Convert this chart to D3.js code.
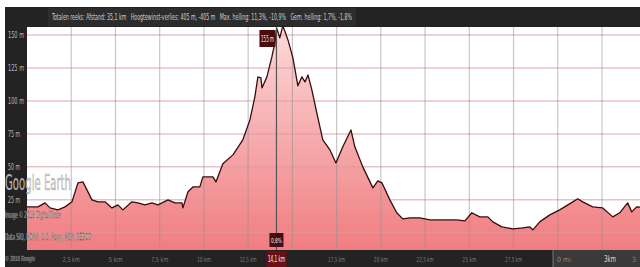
<!DOCTYPE html>
<html>
<head>
<meta charset="utf-8">
<script src="https://cdn.jsdelivr.net/npm/d3@7"></script>
<style>
  body { margin: 0; background: #fff; }
  svg { display: block; }
</style>
</head>
<body>
<div id="chart"></div>
<script>
// profile: distance (km) and elevation (m)
const distKm = [0, 0.62, 1.02, 1.3, 1.75, 2.15, 2.54, 2.88, 3.16, 3.39, 3.67, 4.01, 4.41, 4.8, 5.14, 5.42, 5.93, 6.27, 6.67, 7.06, 7.4, 7.97, 8.36, 8.76, 8.81, 9.1, 9.38, 9.77, 9.94, 10.51, 10.68, 11.07, 11.64, 12.2, 12.6, 12.88, 13.05, 13.22, 13.28, 13.56, 13.84, 14.01, 14.12, 14.29, 14.46, 14.75, 15.03, 15.31, 15.54, 15.71, 15.88, 16.1, 16.38, 16.72, 17.12, 17.46, 17.85, 18.31, 18.53, 18.98, 19.55, 19.83, 20.06, 20.51, 20.9, 21.24, 21.64, 22.2, 22.77, 23.5, 24.29, 24.75, 25.14, 25.59, 26.05, 26.33, 26.84, 27.46, 28.02, 28.42, 28.59, 28.98, 29.55, 30.11, 30.85, 31.13, 31.41, 31.98, 32.54, 33.11, 33.5, 33.95, 34.18, 34.46, 35.1]
const elevM = [19.7, 19.7, 22.7, 18.9, 17.4, 19.7, 23.5, 37.9, 38.6, 32.6, 25, 23.5, 23.5, 18.9, 21.2, 17.4, 23.5, 22.7, 21.2, 22.7, 21.2, 25, 22.7, 22.7, 18.9, 31.1, 34.8, 34.8, 42.4, 42.4, 38.6, 52.3, 59.1, 70.5, 85.6, 103, 118.2, 117.4, 109.8, 118.2, 133.3, 143.9, 155, 147.7, 157, 146.2, 132.6, 111.4, 118.2, 114.4, 119.7, 108.3, 90.9, 70.5, 62.9, 53, 65.2, 78, 65.2, 50, 34.1, 39.4, 37.9, 25, 15.2, 10.6, 11.4, 11.4, 9.8, 9.8, 9.8, 9.1, 15.2, 12.1, 12.1, 8.3, 4.5, 3, 3.8, 4.5, 2.3, 8.3, 13.6, 17.4, 23.5, 25.8, 23.5, 19.7, 18.9, 12.1, 15.2, 22.7, 15.9, 19.7, 18.9]

const yTicks = [0, 25, 50, 75, 100, 125, 150]
const yLabels = [25, 50, 75, 100, 125, 150]
const xTicks = [2.5, 5, 7.5, 10, 12.5, 15, 17.5, 20, 22.5, 25, 27.5, 30, 32.5]
const xLabels = [2.5, 5, 7.5, 10, 12.5, 17.5, 20, 22.5, 25, 27.5]
const cursorKm = 14.1
const cursorElev = "155 m"
const cursorSlope = "0,8%"
const statsText = "Totalen reeks: Afstand: 35,1 km   Hoogtewinst-verlies: 405 m, -405 m   Max. helling: 11,3%, -10,9%   Gem. helling: 1,7%, -1,8%"

const width = 640
const height = 267
const plot = { left: 27, right: 648, top: 27, bottom: 250 }
const fmt = (v) => String(v).replace(".", ",") + " km"
const font = "'DejaVu Sans Condensed', 'Liberation Sans Narrow', 'Liberation Sans', sans-serif"

const svg = d3.select("#chart").append("svg").attr("width", width).attr("height", height)

const x = d3.scaleLinear().domain([0, 35.1]).range([plot.left, plot.right])
const y = d3.scaleLinear().domain([-13, 156]).range([plot.bottom, plot.top])

const defs = svg.append("defs")
defs.append("clipPath").attr("id", "clip")
  .append("rect").attr("x", plot.left).attr("y", plot.top)
  .attr("width", width - plot.left).attr("height", plot.bottom - plot.top)

const grad = defs.append("linearGradient").attr("id", "fillGrad")
  .attr("gradientUnits", "userSpaceOnUse")
  .attr("x1", 0).attr("x2", 0).attr("y1", plot.top).attr("y2", plot.bottom)
grad.append("stop").attr("offset", "0%").attr("stop-color", "#fdd9da")
grad.append("stop").attr("offset", "100%").attr("stop-color", "#f07d80")

// dark frame: top bar, left strip, bottom axis bar
svg.append("rect").attr("x", 5).attr("y", 7).attr("width", width - 5).attr("height", height - 7).attr("fill", "#232323")
svg.append("rect").attr("x", plot.left).attr("y", plot.top).attr("width", width - plot.left).attr("height", plot.bottom - plot.top).attr("fill", "#ffffff")

const data = distKm.map((d, i) => ({ km: d, m: elevM[i] }))
const g = svg.append("g").attr("clip-path", "url(#clip)")

g.append("path").datum(data)
  .attr("fill", "url(#fillGrad)")
  .attr("d", d3.area().x((d) => x(d.km)).y0(plot.bottom).y1((d) => y(d.m)))

// grid lines
g.selectAll(".hgrid").data(yTicks).enter().append("line")
  .attr("x1", plot.left).attr("x2", width)
  .attr("y1", (d) => y(d)).attr("y2", (d) => y(d))
  .attr("stroke", "#d99aa0").attr("stroke-opacity", 0.6).attr("stroke-width", 1.5)
g.selectAll(".vgrid").data(xTicks).enter().append("line")
  .attr("x1", (d) => x(d)).attr("x2", (d) => x(d))
  .attr("y1", plot.top).attr("y2", plot.bottom)
  .attr("stroke", "#8f8f8f").attr("stroke-opacity", 0.5).attr("stroke-width", 1.2)

g.append("path").datum(data)
  .attr("fill", "none").attr("stroke", "#3a0c0e").attr("stroke-width", 1.3)
  .attr("stroke-linejoin", "round")
  .attr("d", d3.line().x((d) => x(d.km)).y((d) => y(d.m)))

// cursor line
g.append("line").attr("x1", x(cursorKm)).attr("x2", x(cursorKm))
  .attr("y1", plot.top).attr("y2", plot.bottom)
  .attr("stroke", "#555").attr("stroke-width", 1.2)

// y labels
svg.selectAll(".ylab").data(yLabels).enter().append("text")
  .attr("x", 8).attr("y", (d) => y(d) + 3)
  .attr("fill", "#b8b8b8").attr("font-family", font).attr("font-size", 8)
  .attr("textLength", (d) => (d >= 100 ? 16 : 12)).attr("lengthAdjust", "spacingAndGlyphs")
  .text((d) => d + " m")

// x labels
svg.selectAll(".xlab").data(xLabels).enter().append("text")
  .attr("x", (d) => x(d)).attr("y", 262)
  .attr("text-anchor", "middle")
  .attr("fill", "#7c7c7c").attr("font-family", font).attr("font-size", 7)
  .attr("textLength", (d) => (Number.isInteger(d) ? 14 : 17)).attr("lengthAdjust", "spacingAndGlyphs")
  .text(fmt)

// top stats bar
svg.append("rect").attr("x", 48).attr("y", 8).attr("width", 308).attr("height", 18).attr("fill", "#2c2c2c")
svg.append("text").attr("x", 52).attr("y", 20)
  .attr("fill", "#cfcfcf").attr("font-family", font).attr("font-size", 9)
  .attr("textLength", 300).attr("lengthAdjust", "spacingAndGlyphs")
  .attr("xml:space", "preserve")
  .text(statsText)

// cursor labels
const cx = x(cursorKm)
svg.append("rect").attr("x", cx - 17).attr("y", 30).attr("width", 16).attr("height", 17).attr("fill", "#4a0b0e")
svg.append("text").attr("x", cx - 9).attr("y", 42).attr("text-anchor", "middle")
  .attr("fill", "#eee").attr("font-family", font).attr("font-size", 8)
  .attr("textLength", 13).attr("lengthAdjust", "spacingAndGlyphs").text(cursorElev)
svg.append("rect").attr("x", cx - 7).attr("y", 233).attr("width", 14).attr("height", 14).attr("fill", "#4a0b0e")
svg.append("text").attr("x", cx).attr("y", 243).attr("text-anchor", "middle")
  .attr("fill", "#eee").attr("font-family", font).attr("font-size", 7)
  .attr("textLength", 11).attr("lengthAdjust", "spacingAndGlyphs").text(cursorSlope)
svg.append("rect").attr("x", cx - 10).attr("y", 251).attr("width", 20).attr("height", 16).attr("fill", "#6a1014")
svg.append("text").attr("x", cx).attr("y", 262).attr("text-anchor", "middle")
  .attr("fill", "#f2f2f2").attr("font-family", font).attr("font-size", 8)
  .attr("textLength", 17).attr("lengthAdjust", "spacingAndGlyphs").text(fmt(cursorKm))

// scale box bottom right
svg.append("rect").attr("x", 553).attr("y", 250).attr("width", 87).attr("height", 17).attr("fill", "#3a3a3a")
svg.append("line").attr("x1", 553).attr("x2", 553).attr("y1", 250).attr("y2", 267).attr("stroke", "#777")
svg.append("text").attr("x", 557).attr("y", 262).attr("fill", "#888").attr("font-family", font).attr("font-size", 7).text("0 mi")
svg.append("text").attr("x", 604).attr("y", 262).attr("fill", "#ddd").attr("font-family", font).attr("font-size", 9)
  .attr("textLength", 12).attr("lengthAdjust", "spacingAndGlyphs").text("3km")
svg.append("text").attr("x", 632).attr("y", 262).attr("fill", "#888").attr("font-family", font).attr("font-size", 7).text("3")

// Google Earth watermark and credits
svg.append("text").attr("x", 5).attr("y", 190)
  .attr("fill", "#dadada").attr("fill-opacity", 0.9)
  .attr("stroke", "#6f6f6f").attr("stroke-width", 0.6).attr("stroke-opacity", 0.6)
  .attr("font-family", font).attr("font-size", 21)
  .attr("textLength", 66).attr("lengthAdjust", "spacingAndGlyphs").text("Google Earth")
const credit = (txt, yy, len, size) => svg.append("text").attr("x", 5).attr("y", yy)
  .attr("fill", "#f6f6f6").attr("font-family", font).attr("font-size", size)
  .attr("stroke", "#3a3a3a").attr("stroke-width", 0.35)
  .attr("textLength", len).attr("lengthAdjust", "spacingAndGlyphs").text(txt)
credit("Image © 2018 DigitalGlobe", 218, 56, 9)
credit("Data SIO, NOAA, U.S. Navy, NGA, GEBCO", 240, 86, 9)
credit("© 2018 Google", 261, 30, 7)
</script>
</body>
</html>
